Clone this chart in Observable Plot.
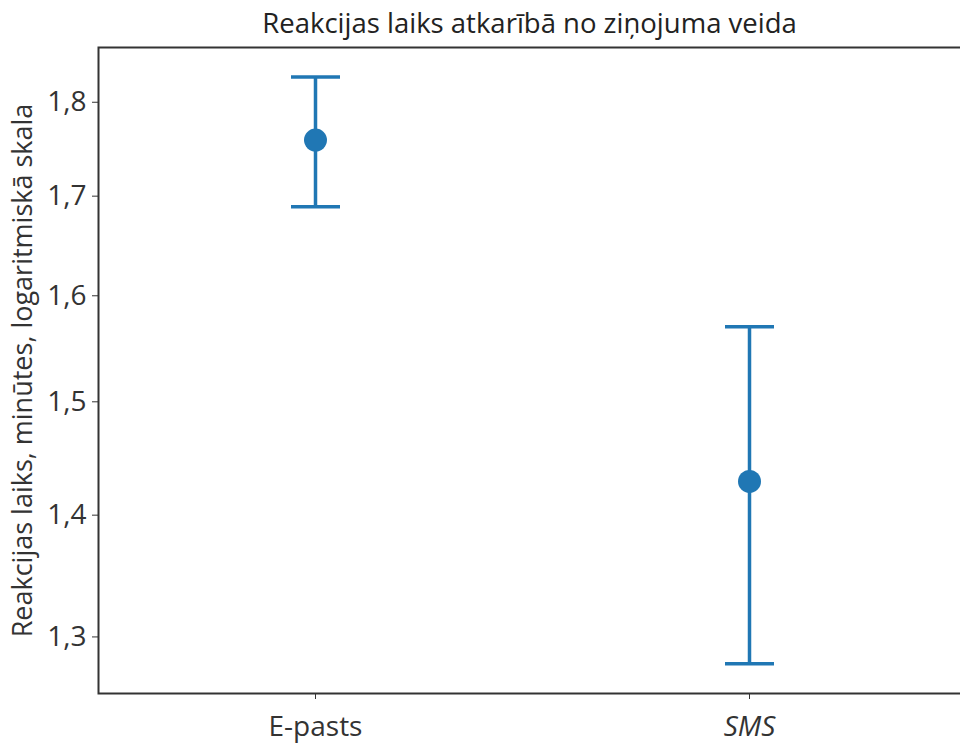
<!DOCTYPE html>
<html>
<head>
<meta charset="utf-8">
<script src="https://cdn.jsdelivr.net/npm/d3@7"></script>
<script src="https://cdn.jsdelivr.net/npm/@observablehq/plot@0.6"></script>
<style>
html, body { margin: 0; padding: 0; background: #fff; overflow: hidden; width: 960px; height: 746px; }
svg { overflow: hidden; }
</style>
</head>
<body>
<div id="chart"></div>
<script>
const title = "Reakcijas laiks atkarībā no ziņojuma veida";
const yLabel = "Reakcijas laiks, minūtes, logaritmiskā skala";
const categories = ["E-pasts", "SMS"];
const means = [1.759, 1.429];
const lows = [1.689, 1.279];
const highs = [1.828, 1.570];
const yTicks = [1.3, 1.4, 1.5, 1.6, 1.7, 1.8];
const yDomain = [1.256, 1.861];

const data = categories.map((c, i) => ({cat: c, mean: means[i], lo: lows[i], hi: highs[i]}));
const caps = data.flatMap(d => [{cat: d.cat, v: d.lo}, {cat: d.cat, v: d.hi}]);

const blue = "#2077b4";
const capSymbol = {
  draw(context, size) {
    const w = 24.5;
    context.moveTo(-w, 0);
    context.lineTo(w, 0);
  }
};
const font = "'Open Sans', sans-serif";
const fmt = d => String(d.toFixed(1)).replace(".", ",");

const chart = Plot.plot({
  width: 960,
  height: 746,
  marginLeft: 98,
  marginRight: 0,
  marginTop: 47,
  marginBottom: 53,
  style: {fontFamily: font, background: "#fff", color: "#333", overflow: "hidden"},
  x: {type: "point", domain: categories, padding: 0.5, range: [98, 966]},
  y: {type: "log", domain: yDomain},
  marks: [
    Plot.frame({stroke: "#333", strokeWidth: 2, insetRight: -6}),
    Plot.axisY({ticks: yTicks, tickFormat: fmt, tickSize: 6, tickPadding: 6, fontSize: 28, stroke: "#333",
      label: yLabel, labelAnchor: "center", labelArrow: "none", labelOffset: 86, fill: "#333"}),
    Plot.axisX({tickSize: 6, tickPadding: 17, fontSize: 28, label: null, fill: "#333", stroke: "#333"}),
    Plot.ruleX(data, {x: "cat", y1: "lo", y2: "hi", stroke: blue, strokeWidth: 3.5}),
    Plot.dot(caps, {x: "cat", y: "v", symbol: capSymbol, fill: "none", stroke: blue, strokeWidth: 3.5, r: 10}),
    Plot.dot(data, {x: "cat", y: "mean", r: 11.5, fill: blue, stroke: "none"}),
    Plot.text([title], {frameAnchor: "top", dy: -23, lineAnchor: "middle", fontSize: 27.5, fill: "#222", fontFamily: font})
  ]
});

d3.select(chart).selectAll("g[aria-label='x-axis tick label'] text")
  .filter(function() { return this.textContent === "SMS"; })
  .attr("font-style", "italic");
d3.select(chart).selectAll("g[aria-label='y-axis label'] text").attr("font-size", 27);

document.getElementById("chart").appendChild(chart);
</script>
</body>
</html>
